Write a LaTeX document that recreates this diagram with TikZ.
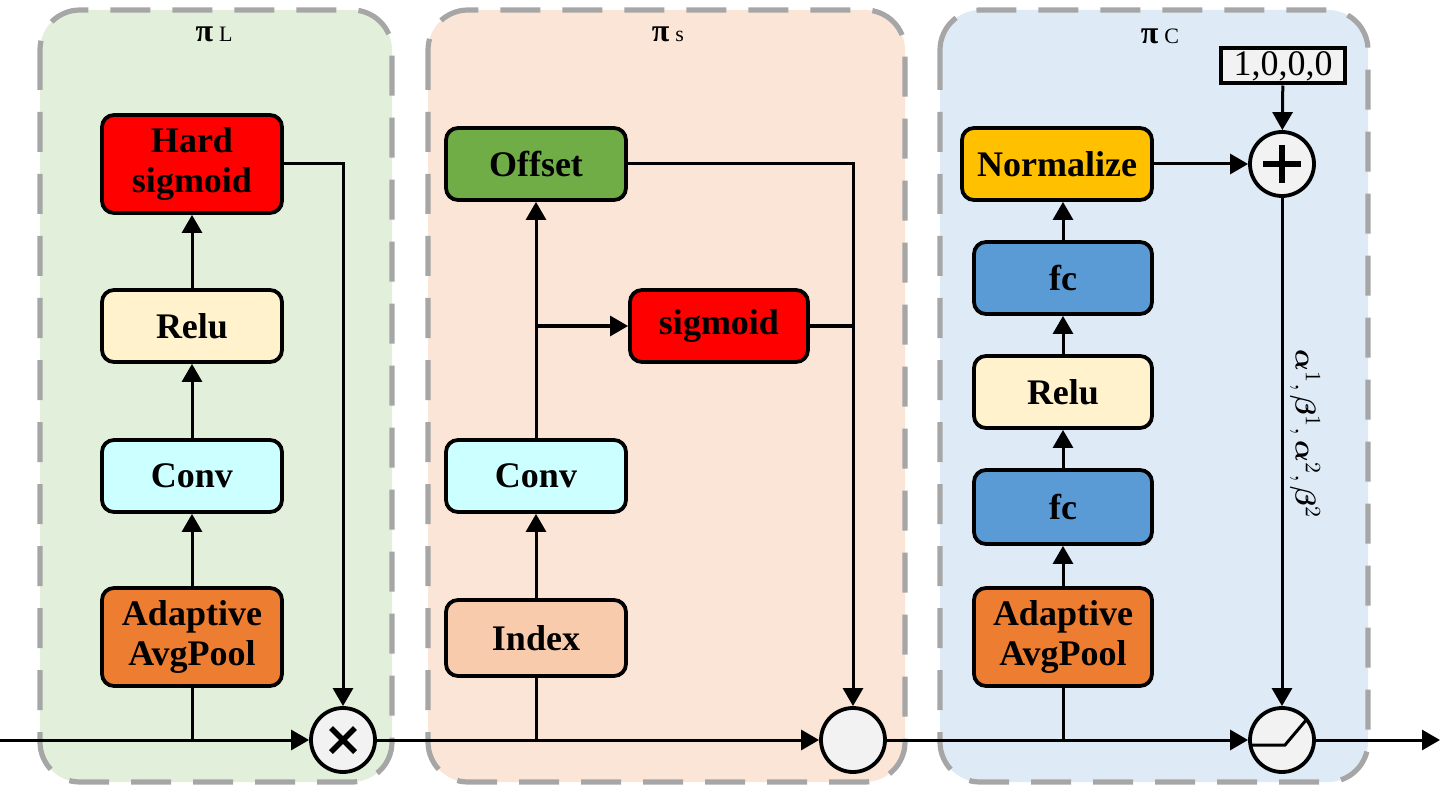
\documentclass[tikz,border=0pt]{standalone}
\usepackage{fontspec}
\setmainfont{Liberation Serif}
\usepackage{bm}
\usetikzlibrary{arrows.meta,calc}
\definecolor{pgreen}{HTML}{E2EFDA}
\definecolor{ppeach}{HTML}{FBE5D6}
\definecolor{pblue}{HTML}{DEEBF7}
\definecolor{dgray}{HTML}{A6A6A6}
\definecolor{cred}{HTML}{FF0000}
\definecolor{ccream}{HTML}{FFF2CC}
\definecolor{ccyan}{HTML}{CCFFFF}
\definecolor{corange}{HTML}{ED7D31}
\definecolor{cgreen}{HTML}{70AD47}
\definecolor{cpeach}{HTML}{F8CBAD}
\definecolor{cyellow}{HTML}{FFC000}
\definecolor{cblue}{HTML}{5B9BD5}
\definecolor{cgray}{HTML}{F2F2F2}
\begin{document}
\begin{tikzpicture}[x=0.5pt,y=-0.5pt,
  panel/.style={draw=dgray, line width=2.6pt, rounded corners=20pt, dash pattern=on 20pt off 11pt},
  blk/.style={draw, line width=1.9pt, rounded corners=6pt, minimum width=90pt, minimum height=36pt, align=center, inner sep=0pt, font=\fontsize{18}{20}\selectfont\bfseries},
  op/.style={draw, circle, line width=1.9pt, fill=cgray, minimum size=32pt, inner sep=0pt},
  arr/.style={line width=1.5pt, -{Triangle[length=9pt,width=10pt]}},
  ln/.style={line width=1.5pt},
  sym/.style={line width=2.8pt},
  ttl/.style={inner sep=0pt}]
\useasboundingbox (0,0) rectangle (1448,792);
% panels
\draw[panel, fill=pgreen] (40,10) rectangle (392,782);
\draw[panel, fill=ppeach] (428,10) rectangle (905,782);
\draw[panel, fill=pblue] (940,10) rectangle (1368,782);
% titles
\node[ttl] (t1) at (214,34) {{\fontsize{16}{16}\selectfont\bfseries π}\hspace{3pt}{\fontsize{11}{11}\selectfont L}};
\node[ttl] (t2) at (668,34) {{\fontsize{16}{16}\selectfont\bfseries π}\hspace{3pt}{\fontsize{11}{11}\selectfont s}};
\node[ttl] (t3) at (1160,36) {{\fontsize{16}{16}\selectfont\bfseries π}\hspace{3pt}{\fontsize{11}{11}\selectfont C}};
% panel 1
\node[blk, fill=cred, minimum height=49pt] (hs) at (192,164) {Hard\\sigmoid};
\node[blk, fill=ccream] (r1) at (192,326) {Relu};
\node[blk, fill=ccyan] (c1) at (192,476) {Conv};
\node[blk, fill=corange, minimum height=49pt] (ap1) at (192,637) {Adaptive\\AvgPool};
% panel 2
\node[blk, fill=cgreen] (off) at (536,164) {Offset};
\node[blk, fill=cred, minimum width=89pt] (sg) at (719,326) {sigmoid};
\node[blk, fill=ccyan] (c2) at (536,476) {Conv};
\node[blk, fill=cpeach, minimum height=38pt] (idx) at (536,638) {Index};
% panel 3
\node[blk, fill=cyellow, minimum width=95pt] (nrm) at (1057,164) {Normalize};
\node[blk, fill=cblue, minimum width=89pt] (fc2) at (1063,278) {fc};
\node[blk, fill=ccream, minimum width=89pt] (r3) at (1063,392) {Relu};
\node[blk, fill=cblue, minimum width=89pt, minimum height=37pt] (fc1) at (1063,507) {fc};
\node[blk, fill=corange, minimum width=89pt, minimum height=49pt] (ap3) at (1063,637) {Adaptive\\AvgPool};
\node[draw, line width=2pt, fill=cgray, minimum width=62pt, minimum height=17.5pt, inner sep=0pt, font=\fontsize{18}{18}\selectfont] (one) at (1283,66) {1,0,0,0};
% operators
\node[op] (mul) at (343,740) {};
\node[op] (mix) at (853,740) {};
\node[op] (act) at (1282,740) {};
\node[op] (add) at (1282,164) {};
\draw[sym] ($(mul)+(-12,-12)$) -- ($(mul)+(12,12)$);
\draw[sym] ($(mul)+(-12,12)$) -- ($(mul)+(12,-12)$);
\draw[line width=3.2pt] ($(add)+(-19,0)$) -- ($(add)+(19,0)$);
\draw[line width=3.2pt] ($(add)+(0,-19)$) -- ($(add)+(0,19)$);
\draw[ln] ($(act)+(-31,5)$) -- ($(act)+(3,5)$) -- ($(act)+(25,-21)$);
% main line
\coordinate (in) at (0,740);
\coordinate (out) at (1440,740);
\draw[arr] (in) -- (mul);
\draw[arr] (mul) -- (mix);
\draw[arr] (mix) -- (act);
\draw[arr] (act) -- (out);
% panel 1 connectors
\draw[ln] (ap1.south) -- (ap1.south |- in);
\draw[arr] (ap1) -- (c1);
\draw[arr] (c1) -- (r1);
\draw[arr] (r1) -- (hs);
\draw[arr] (hs.east) -| (mul.north);
% panel 2 connectors
\draw[ln] (idx.south) -- (idx.south |- in);
\draw[arr] (idx) -- (c2);
\draw[arr] (c2) -- (off);
\coordinate (br) at (off.south |- sg.west);
\draw[arr] (br) -- (sg.west);
\draw[arr] (off.east) -| (mix.north);
\draw[ln] (sg.east) -- (sg.east -| mix.north);
% panel 3 connectors
\draw[ln] (ap3.south) -- (ap3.south |- in);
\draw[arr] (ap3) -- (fc1);
\draw[arr] (fc1) -- (r3);
\draw[arr] (r3) -- (fc2);
\draw[arr] (fc2) -- (nrm.south -| fc2.north);
\draw[arr] (nrm.east) -- (add.west);
\draw[arr] (one) -- (add);
\draw[arr] (add) -- (act);
\node[rotate=-90, inner sep=0pt, font=\fontsize{15}{15}\selectfont] (lab) at (1305,434) {$\bm{\alpha}^1,\bm{\beta}^1,\bm{\alpha}^2,\bm{\beta}^2$};
\end{tikzpicture}
\end{document}
